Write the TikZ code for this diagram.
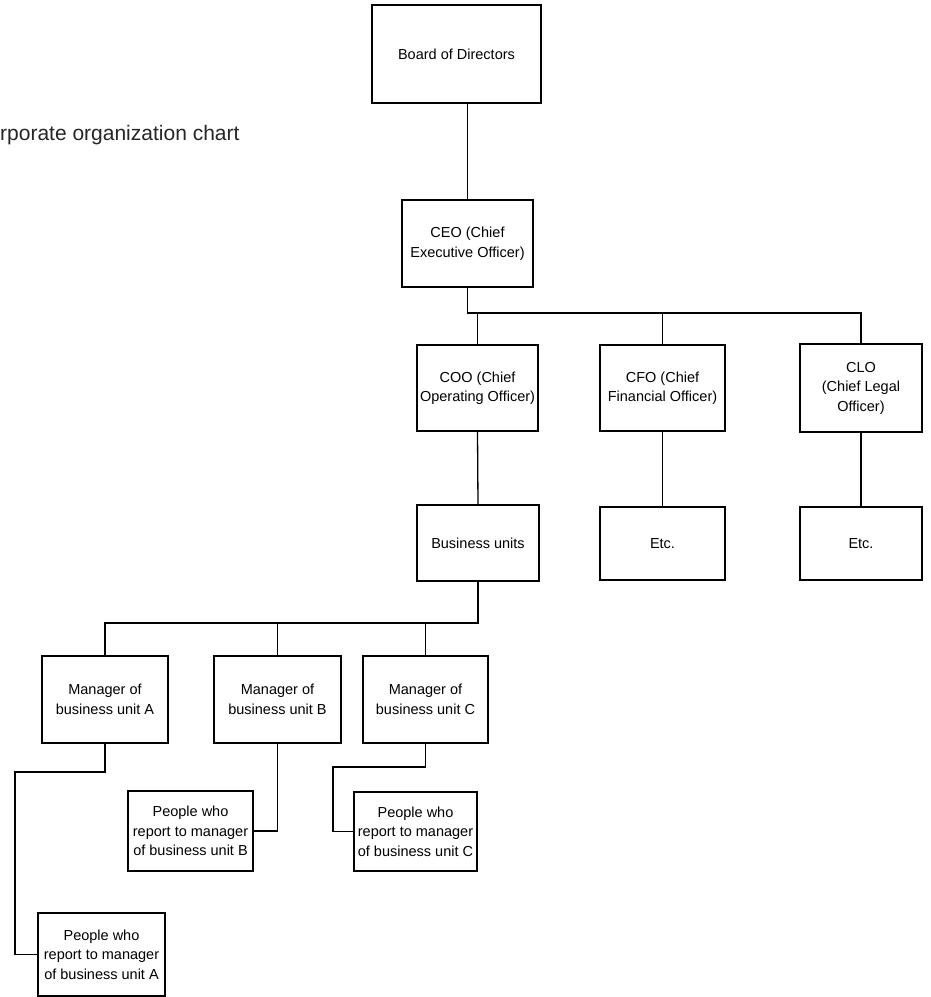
\documentclass[tikz,border=0pt]{standalone}
\usepackage{fontspec}
\setmainfont{Liberation Sans}
\begin{document}
\begin{tikzpicture}[x=1pt,y=-1pt,
  topbox/.style={draw, line width=1.6pt, align=center, inner sep=1pt, font=\fontsize{14.5}{19.5}\selectfont},
  lowbox/.style={draw, line width=1.1pt, align=center, inner sep=1pt, font=\fontsize{14.5}{19.5}\selectfont},
  conn/.style={line width=1.3pt},
  title/.style={anchor=west, inner sep=0pt, font=\fontsize{21}{24}\selectfont, text=black!85}]
\fill[white] (0,0) rectangle (931,997);
\useasboundingbox (0,0) rectangle (931,997);

\node[title] (ttl) at (0,135) {rporate organization chart};

\node[topbox, minimum width=169pt, minimum height=98pt] (board) at (456.5,54) {Board of Directors};
\node[topbox, minimum width=131pt, minimum height=87pt] (ceo) at (467.5,243.5) {CEO (Chief\\Executive Officer)};
\node[topbox, minimum width=121pt, minimum height=86pt] (coo) at (477.5,388) {COO (Chief\\Operating Officer)};
\node[topbox, minimum width=125pt, minimum height=86pt] (cfo) at (662.5,388) {CFO (Chief\\Financial Officer)};
\node[topbox, minimum width=122pt, minimum height=88pt] (clo) at (861,388) {CLO\\(Chief Legal\\Officer)};
\node[topbox, minimum width=122pt, minimum height=76pt] (bu) at (478,543) {Business units};
\node[lowbox, line width=1.4pt, minimum width=125pt, minimum height=73pt] (etca) at (662.5,543.5) {Etc.};
\node[topbox, minimum width=122pt, minimum height=73pt] (etcb) at (861,543.5) {Etc.};

\node[lowbox, minimum width=126pt, minimum height=87pt] (mgra) at (105,699.5) {Manager of\\business unit A};
\node[lowbox, minimum width=127pt, minimum height=87pt] (mgrb) at (277.5,699.5) {Manager of\\business unit B};
\node[lowbox, minimum width=125pt, minimum height=87pt] (mgrc) at (425.5,699.5) {Manager of\\business unit C};

\node[lowbox, minimum width=125pt, minimum height=80pt] (pplb) at (190.5,831) {People who\\report to manager\\of business unit B};
\node[lowbox, minimum width=123pt, minimum height=79pt] (pplc) at (415.5,831.5) {People who\\report to manager\\of business unit C};
\node[lowbox, minimum width=127pt, minimum height=83pt] (ppla) at (101.5,954.5) {People who\\report to manager\\of business unit A};

\coordinate (ceobar) at (467.5,313);
\coordinate (bubar) at (478,623);
\coordinate (cbend) at (333,767);
\coordinate (abend) at (15,772);

\draw[conn] (ceo.north) -- (ceo.north |- board.south);
\draw[conn] (ceo.south) -- (ceobar) -| (clo.north);
\draw[conn] (ceobar -| coo.north) -- (coo.north);
\draw[conn] (ceobar -| cfo.north) -- (cfo.north);
\draw[conn] (coo.south) -- (bu.north);
\draw[conn] (cfo.south) -- (etca.north);
\draw[conn] (clo.south) -- (etcb.north);

\draw[conn] (bu.south) -- (bubar) -| (mgra.north);
\draw[conn] (bubar -| mgrb.north) -- (mgrb.north);
\draw[conn] (bubar -| mgrc.north) -- (mgrc.north);

\draw[conn] (mgrb.south) -- (mgrb.south |- pplb.east) -- (pplb.east);
\draw[conn] (mgrc.south) |- (cbend) |- (pplc.west);
\draw[conn] (mgra.south) |- (abend) |- (ppla.west);
\end{tikzpicture}
\end{document}
